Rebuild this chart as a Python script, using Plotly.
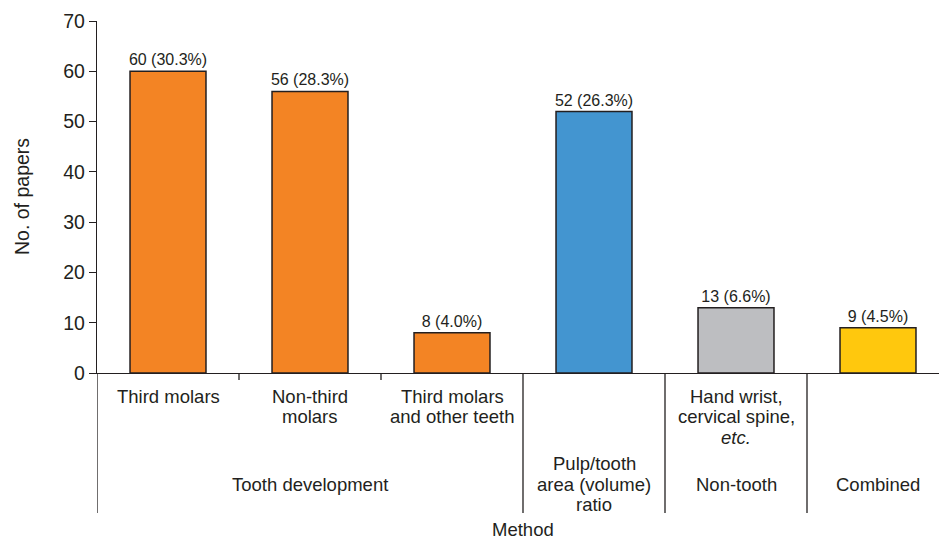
import plotly.graph_objects as go

# ---- data ----
categories = ["Third molars", "Non-third<br>molars", "Third molars<br>and other teeth",
              "", "Hand wrist,<br>cervical spine,<br><i>etc.</i>", ""]
counts = [60, 56, 8, 52, 13, 9]
percents = [30.3, 28.3, 4.0, 26.3, 6.6, 4.5]
groups = ["Tooth development", "Pulp/tooth<br>area (volume)<br>ratio", "Non-tooth", "Combined"]
group_members = [[0, 1, 2], [3], [4], [5]]
bar_colors = ["#F38424", "#F38424", "#F38424", "#4395D0", "#BDBEC1", "#FFC80D"]
y_ticks = [0, 10, 20, 30, 40, 50, 60, 70]

# ---- layout constants ----
W, H = 939, 540
ML, MR, MT, MB = 97, 0, 21, 167
plot_h = H - MT - MB
ink = "#231F20"
FONT = "Liberation Sans, Arial, Helvetica, sans-serif"

def py(pix):
    """pixel y -> paper y"""
    return (H - MB - pix) / plot_h

x = list(range(len(counts)))

fig = go.Figure()
fig.add_trace(go.Bar(
    x=x, y=counts, customdata=percents,
    width=0.535,
    marker=dict(color=bar_colors, line=dict(color=ink, width=1.5)),
    texttemplate="%{y} (%{customdata:.1f}%)",
    textposition="outside", constraintext="none", cliponaxis=False,
    textfont=dict(size=16, color=ink, family=FONT),
    hoverinfo="skip",
))

shapes = []
annotations = []

# boundaries
drop = py(513)
for gi, members in enumerate(group_members):
    left = members[0] - 0.5
    shapes.append(dict(type="line", xref="x", yref="paper", x0=left, x1=left,
                       y0=0, y1=drop, line=dict(color=ink, width=1.3)))
    for m in members[1:]:
        shapes.append(dict(type="line", xref="x", yref="paper", x0=m - 0.5, x1=m - 0.5,
                           y0=0, y1=py(380), line=dict(color=ink, width=1.3)))

# category labels (line by line)
line_gap = 20.5
for i, lab in enumerate(categories):
    if not lab:
        continue
    for li, part in enumerate(lab.split("<br>")):
        annotations.append(dict(x=i, y=py(396 + li * line_gap), xref="x", yref="paper",
                                text=part, showarrow=False, yanchor="middle",
                                font=dict(size=18.5, color=ink, family=FONT)))

# group labels
for g, members in zip(groups, group_members):
    cx = (members[0] + members[-1]) / 2
    parts = g.split("<br>")
    n = len(parts)
    for li, part in enumerate(parts):
        cy = 484 + (li - (n - 1) / 2) * line_gap
        annotations.append(dict(x=cx, y=py(cy), xref="x", yref="paper",
                                text=part, showarrow=False, yanchor="middle",
                                font=dict(size=18.5, color=ink, family=FONT)))

# axis titles
annotations.append(dict(x=(len(counts) - 1) / 2, y=py(529), xref="x", yref="paper",
                        text="Method", showarrow=False, yanchor="middle",
                        font=dict(size=18.5, color=ink, family=FONT)))
annotations.append(dict(x=(22 - ML) / (W - ML - MR), y=0.5, xref="paper", yref="paper",
                        text="No. of papers", showarrow=False, textangle=-90,
                        xanchor="center", yanchor="middle",
                        font=dict(size=19.5, color=ink, family=FONT)))

fig.update_layout(
    width=W, height=H,
    margin=dict(l=ML, r=MR, t=MT, b=MB, pad=0),
    paper_bgcolor="white", plot_bgcolor="white",
    showlegend=False,
    shapes=shapes, annotations=annotations,
    font=dict(family=FONT, color=ink),
    xaxis=dict(range=[-0.5, -0.5 + (W - ML - MR) / 142.0], showticklabels=False,
               ticks="", showgrid=False, zeroline=False,
               showline=True, linecolor=ink, linewidth=1.3, fixedrange=True),
    yaxis=dict(range=[0, 70], tickvals=y_ticks, ticks="outside", ticklen=7,
               tickcolor=ink, tickwidth=1.3, showgrid=False, zeroline=False,
               showline=True, linecolor=ink, linewidth=1.3,
               tickfont=dict(size=19.5, color=ink, family=FONT), fixedrange=True),
)

fig.write_html("out.html")
